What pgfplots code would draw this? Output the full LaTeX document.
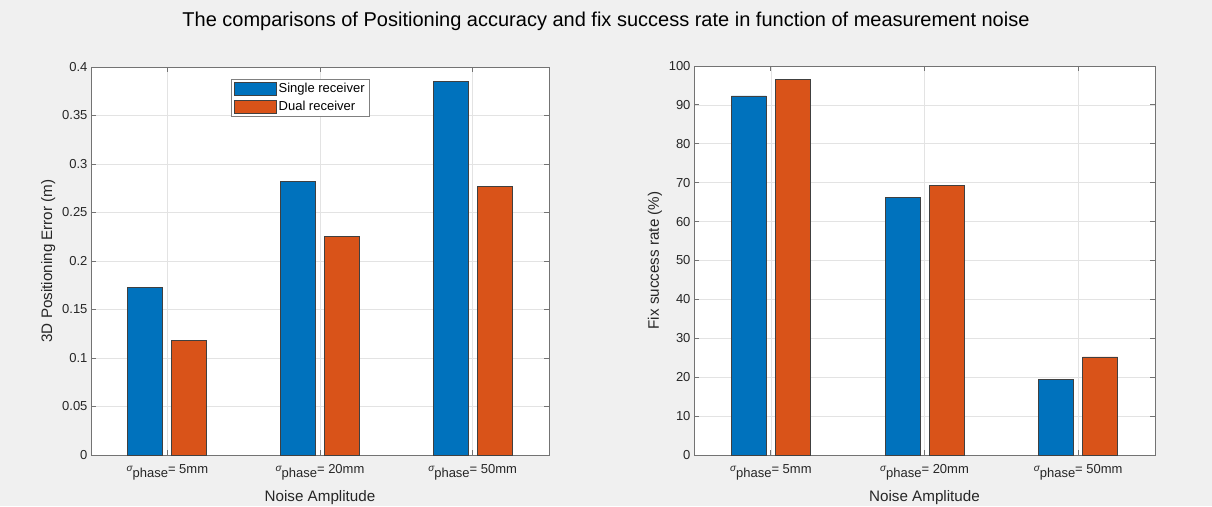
\documentclass[border=0pt]{standalone}
\usepackage{pgfplots}
\pgfplotsset{compat=1.18}
\usepackage{fontspec}
\setmainfont{Liberation Sans}
\definecolor{mblue}{RGB}{0,114,189}
\definecolor{morange}{RGB}{217,83,25}
\definecolor{figbg}{RGB}{240,240,240}
\newcommand{\sig}[1]{\raisebox{0.3ex}{\fontsize{10}{12}\selectfont\itshape σ}\raisebox{-0.55ex}{phase}= #1}
\pgfplotsset{mystyle/.style={
  scale only axis,
  axis background/.style={fill=white},
  ybar=9pt, bar width=35pt,
  xmin=0.5, xmax=3.5, xtick={1,2,3},
  xticklabels={\sig{5mm},\sig{20mm},\sig{50mm}},
  ymin=0,
  grid=major,
  major grid style={draw=black!11, line width=0.6pt},
  axis line style={draw=black!55, line width=0.8pt},
  tick style={draw=black!55, line width=0.8pt},
  major tick length=5pt,
  tick align=inside,
  xtick pos=both, ytick pos=both,
  scaled y ticks=false,
  /pgf/number format/assume math mode=true,
  tick label style={font=\fontsize{13}{15}\selectfont, text=black!85},
  xticklabel style={yshift=-6pt},
  label style={font=\fontsize{15.2}{17}\selectfont, text=black!85},
  xlabel={Noise Amplitude},
  xlabel style={yshift=-4pt},
  every axis plot/.append style={draw=black!75, line width=0.7pt},
  legend image code/.code={\draw[##1] (0pt,-6.5pt) rectangle (42pt,6.5pt);},
}}
\begin{document}
\begin{tikzpicture}
\fill[figbg] (0,0) rectangle (1212pt,506pt);
\useasboundingbox (0,0) rectangle (1212pt,506pt);
\node[font=\fontsize{20}{23}\selectfont] at (606pt,485pt) {The comparisons of Positioning accuracy and fix success rate in function of measurement noise};
\begin{axis}[mystyle, at={(91pt,51pt)}, anchor=south west, width=458pt, height=388pt,
  ymax=0.4, ytick={0,0.05,0.1,0.15,0.2,0.25,0.3,0.35,0.4},
  yticklabels={0,0.05,0.1,0.15,0.2,0.25,0.3,0.35,0.4},
  ylabel={3D Positioning Error (m)},
  legend style={at={(0.457,0.97)}, anchor=north, draw=black!50, fill=white,
    font=\fontsize{13}{15}\selectfont, inner sep=2.5pt, row sep=3pt},
  legend cell align=left]
\addplot[fill=mblue] coordinates {(1,0.1725) (2,0.2818) (3,0.385)};
\addplot[fill=morange] coordinates {(1,0.118) (2,0.225) (3,0.277)};
\legend{Single receiver, Dual receiver}
\end{axis}
\begin{axis}[mystyle, at={(694pt,51pt)}, anchor=south west, width=461pt, height=389pt,
  ymax=100, ytick={0,10,...,100},
  ylabel={Fix success rate (\%)}]
\addplot[fill=mblue] coordinates {(1,92.3) (2,66.2) (3,19.5)};
\addplot[fill=morange] coordinates {(1,96.6) (2,69.2) (3,25.2)};
\end{axis}
\end{tikzpicture}
\end{document}
